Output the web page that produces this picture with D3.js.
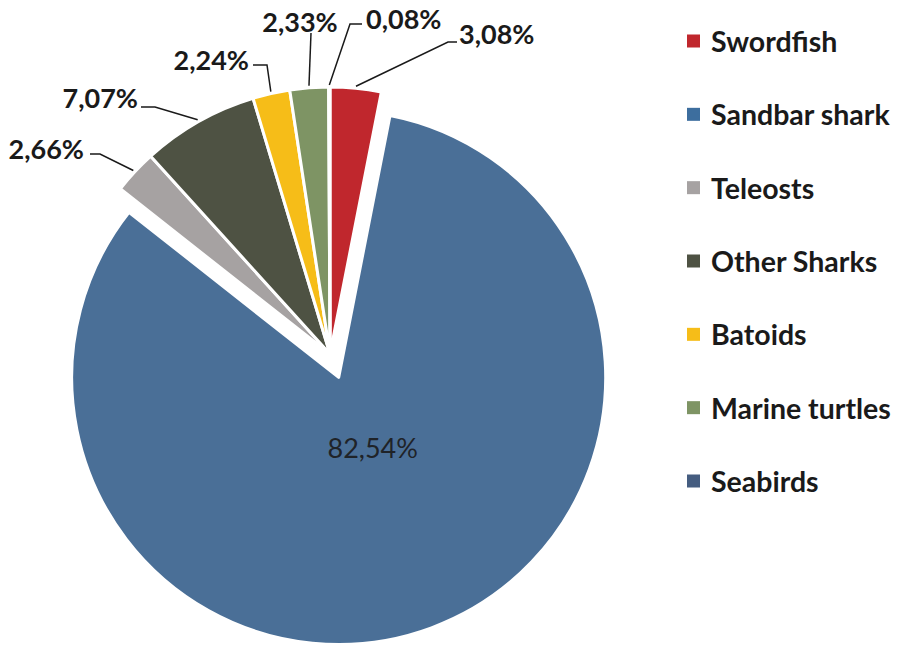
<!DOCTYPE html>
<html>
<head>
<meta charset="utf-8">
<script src="https://cdn.jsdelivr.net/npm/d3@7"></script>
<style>
  html, body { margin: 0; padding: 0; background: #ffffff; }
  svg { display: block; }
</style>
</head>
<body>
<svg id="chart" width="901" height="646"></svg>
<script>
// Bycatch composition by group (percent of total)
const categories = ["Swordfish", "Sandbar shark", "Teleosts", "Other Sharks", "Batoids", "Marine turtles", "Seabirds"];
const shares = [3.08, 82.54, 2.66, 7.07, 2.24, 2.33, 0.08];
const valueLabels = ["3,08%", "82,54%", "2,66%", "7,07%", "2,24%", "2,33%", "0,08%"];
const colors = ["#c0272d", "#4a6f97", "#a6a2a2", "#4e5243", "#f6bd18", "#7e9464", "#455d80"];
const legendColors = ["#c0272d", "#3d6e9e", "#a6a2a2", "#4e5243", "#f6bd18", "#7e9464", "#455d80"];

// Leader-line elbows and label anchors, relative to the pie centre
const calloutLayout = [
  { slice: 0, elbow: [118, -312], end: [127, -312], anchor: "start", text: [129, -321] },
  { slice: 2, elbow: [-230, -200], end: [-240, -200], anchor: "end", text: [-246, -206] },
  { slice: 3, elbow: [-175, -247], end: [-189, -247], anchor: "end", text: [-192, -257] },
  { slice: 4, elbow: [-63, -289], end: [-77, -289], anchor: "end", text: [-81, -295] },
  { slice: 5, elbow: [-19, -321], end: [-19, -321], anchor: "middle", text: [-30, -333] },
  { slice: 6, elbow: [20, -330], end: [32, -330], anchor: "start", text: [36, -336] }
];

const svg = d3.select("#chart");
const cx = 330, cy = 354, radius = 267, explode = 25;

const pie = d3.pie().sort(null).value(d => d)(shares);
const arc = d3.arc().innerRadius(0).outerRadius(radius);

const g = svg.append("g").attr("transform", `translate(${cx},${cy})`);

// Offset of a slice along its bisector (only the dominant slice is pulled out)
function offset(d, i) {
  if (i !== 1) return [0, 0];
  const a = (d.startAngle + d.endAngle) / 2;
  return [Math.sin(a) * explode, -Math.cos(a) * explode];
}

g.selectAll("path.slice")
  .data(pie)
  .join("path")
  .attr("class", "slice")
  .attr("d", arc)
  .attr("fill", (d, i) => colors[i])
  .attr("stroke", "#ffffff")
  .attr("stroke-width", 3)
  .attr("stroke-linejoin", "round")
  .attr("transform", (d, i) => { const o = offset(d, i); return `translate(${o[0]},${o[1]})`; });

// Label inside the large slice
const big = pie[1];
const bigAngle = (big.startAngle + big.endAngle) / 2;
const bo = offset(big, 1);
g.append("text")
  .attr("x", bo[0] + Math.sin(bigAngle) * radius * 0.28 + 8)
  .attr("y", bo[1] - Math.cos(bigAngle) * radius * 0.28)
  .attr("text-anchor", "middle")
  .attr("dominant-baseline", "central")
  .attr("font-family", "Lato, 'Open Sans', sans-serif")
  .attr("font-size", 27)
  .attr("fill", "#1f2328")
  .text(valueLabels[1]);

// Callouts for the small slices
const callouts = g.append("g");
calloutLayout.forEach(c => {
  const d = pie[c.slice];
  const a = (d.startAngle + d.endAngle) / 2;
  const start = [Math.sin(a) * (radius + 2), -Math.cos(a) * (radius + 2)];
  callouts.append("polyline")
    .attr("points", [start, c.elbow, c.end].map(p => p.join(",")).join(" "))
    .attr("fill", "none")
    .attr("stroke", "#1a1a1a")
    .attr("stroke-width", 1.5);
  callouts.append("text")
    .attr("x", c.text[0])
    .attr("y", c.text[1])
    .attr("text-anchor", c.anchor)
    .attr("dominant-baseline", "central")
    .attr("font-family", "Lato, 'Open Sans', sans-serif")
    .attr("font-weight", 700)
    .attr("font-size", 27)
    .attr("fill", "#1a1a1a")
    .text(valueLabels[c.slice]);
});

// Legend
const legendY = d3.scalePoint().domain(categories).range([41, 481]);
const legend = svg.append("g").attr("transform", "translate(687,0)");
const rows = legend.selectAll("g.row")
  .data(categories)
  .join("g")
  .attr("class", "row")
  .attr("transform", d => `translate(0,${legendY(d)})`);
rows.append("rect")
  .attr("x", 0).attr("y", -6.5)
  .attr("width", 13).attr("height", 13)
  .attr("fill", (d, i) => legendColors[i]);
rows.append("text")
  .attr("x", 24)
  .attr("y", 0)
  .attr("dominant-baseline", "central")
  .attr("font-family", "Lato, 'Open Sans', sans-serif")
  .attr("font-weight", 700)
  .attr("font-size", 28.5)
  .attr("fill", "#1a1a1a")
  .text(d => d);
</script>
</body>
</html>
